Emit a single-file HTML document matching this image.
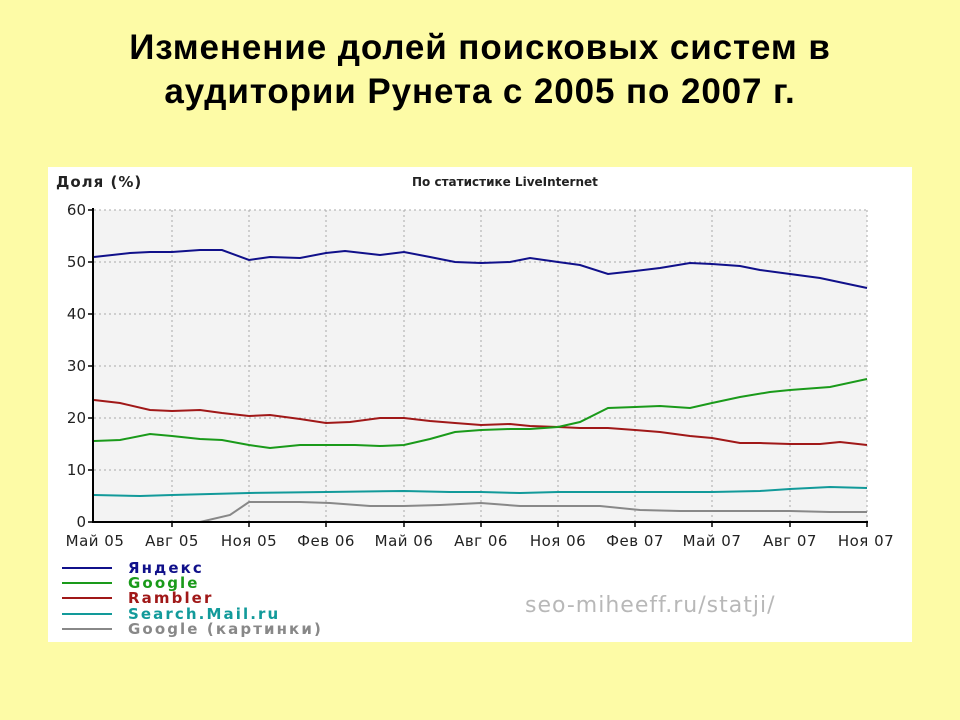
<!DOCTYPE html>
<html><head><meta charset="utf-8"><style>
html,body{margin:0;padding:0;}
body{width:960px;height:720px;overflow:hidden;background:#fdfba6;position:relative;font-family:"Liberation Sans","DejaVu Sans",sans-serif;}
.title{position:absolute;left:0;width:960px;top:26px;text-align:center;font-weight:bold;font-size:35px;line-height:44px;color:#000;letter-spacing:0.9px;}
</style></head><body>
<div class="title">Изменение долей поисковых систем в<br>аудитории Рунета с 2005 по 2007 г.</div>
<svg width="960" height="720" style="position:absolute;left:0;top:0" xmlns="http://www.w3.org/2000/svg" font-family="DejaVu Sans, Liberation Sans, sans-serif">
<rect x="48" y="167" width="864" height="475" fill="#fff"/>
<rect x="94" y="210" width="773" height="312" fill="#f3f3f3"/>
<g stroke="#aaa" stroke-width="1" stroke-dasharray="2,3">
<line x1="94" y1="210" x2="867" y2="210"/><line x1="94" y1="262" x2="867" y2="262"/><line x1="94" y1="314" x2="867" y2="314"/><line x1="94" y1="366" x2="867" y2="366"/><line x1="94" y1="418" x2="867" y2="418"/><line x1="94" y1="470" x2="867" y2="470"/>
<line x1="172" y1="210" x2="172" y2="522"/><line x1="249" y1="210" x2="249" y2="522"/><line x1="326" y1="210" x2="326" y2="522"/><line x1="404" y1="210" x2="404" y2="522"/><line x1="481" y1="210" x2="481" y2="522"/><line x1="558" y1="210" x2="558" y2="522"/><line x1="635" y1="210" x2="635" y2="522"/><line x1="712" y1="210" x2="712" y2="522"/><line x1="790" y1="210" x2="790" y2="522"/><line x1="867" y1="210" x2="867" y2="522"/>
</g>
<g fill="none" stroke-width="2">
<polyline stroke="#888" points="94,522 200,522 230,515 249,502 280,502 300,502 330,503 370,506 404,506 440,505 481,503 520,506 558,506 600,506 640,510 680,511 712,511 790,511 830,512 867,512"/>
<polyline stroke="#129a9a" points="94,495 140,496 172,495 249,493 326,492 404,491 450,492 481,492 520,493 558,492 635,492 712,492 760,491 790,489 830,487 867,488"/>
<polyline stroke="#a01818" points="94,400 120,403 150,410 172,411 200,410 222,413 249,416 270,415 300,419 326,423 350,422 380,418 404,418 430,421 455,423 481,425 510,424 530,426 558,427 580,428 608,428 635,430 660,432 690,436 712,438 740,443 760,443 790,444 820,444 840,442 867,445"/>
<polyline stroke="#1a9a1a" points="94,441 120,440 150,434 172,436 200,439 222,440 249,445 270,448 300,445 326,445 355,445 380,446 404,445 430,439 455,432 481,430 510,429 530,429 558,427 580,422 608,408 635,407 660,406 690,408 712,403 740,397 770,392 790,390 830,387 867,379"/>
<polyline stroke="#10108a" points="94,257 130,253 150,252 172,252 200,250 222,250 249,260 270,257 300,258 326,253 345,251 380,255 404,252 430,257 455,262 481,263 510,262 530,258 558,262 580,265 608,274 635,271 660,268 690,263 712,264 740,266 760,270 790,274 820,278 867,288"/>
</g>
<g stroke="#000" stroke-width="2">
<line x1="93" y1="208" x2="93" y2="523"/><line x1="93" y1="522" x2="868" y2="522"/>
</g>
<g stroke="#000" stroke-width="1.5">
<line x1="88" y1="210" x2="93" y2="210"/><line x1="88" y1="262" x2="93" y2="262"/><line x1="88" y1="314" x2="93" y2="314"/><line x1="88" y1="366" x2="93" y2="366"/><line x1="88" y1="418" x2="93" y2="418"/><line x1="88" y1="470" x2="93" y2="470"/><line x1="88" y1="522" x2="93" y2="522"/>
<line x1="172" y1="522" x2="172" y2="527"/><line x1="249" y1="522" x2="249" y2="527"/><line x1="326" y1="522" x2="326" y2="527"/><line x1="404" y1="522" x2="404" y2="527"/><line x1="481" y1="522" x2="481" y2="527"/><line x1="558" y1="522" x2="558" y2="527"/><line x1="635" y1="522" x2="635" y2="527"/><line x1="712" y1="522" x2="712" y2="527"/><line x1="790" y1="522" x2="790" y2="527"/><line x1="867" y1="522" x2="867" y2="527"/>
</g>
<g font-size="15" fill="#222" text-anchor="end">
<text x="86" y="215">60</text><text x="86" y="267">50</text><text x="86" y="319">40</text><text x="86" y="371">30</text><text x="86" y="423">20</text><text x="86" y="475">10</text><text x="86" y="527">0</text>
</g>
<g font-size="15" fill="#222" text-anchor="middle" letter-spacing="0.5">
<text x="95" y="546">Май 05</text><text x="172" y="546">Авг 05</text><text x="249" y="546">Ноя 05</text><text x="326" y="546">Фев 06</text><text x="404" y="546">Май 06</text><text x="481" y="546">Авг 06</text><text x="558" y="546">Ноя 06</text><text x="635" y="546">Фев 07</text><text x="712" y="546">Май 07</text><text x="790" y="546">Авг 07</text><text x="866" y="546">Ноя 07</text>
</g>
<text x="56" y="187" font-size="15" font-weight="bold" fill="#222" letter-spacing="1">Доля (%)</text>
<text x="412" y="186" font-size="12" font-weight="bold" fill="#222">По статистике LiveInternet</text>
<g stroke-width="2">
<line x1="62" y1="568" x2="112" y2="568" stroke="#10108a"/>
<line x1="62" y1="583" x2="112" y2="583" stroke="#1a9a1a"/>
<line x1="62" y1="598" x2="112" y2="598" stroke="#a01818"/>
<line x1="62" y1="614" x2="112" y2="614" stroke="#129a9a"/>
<line x1="62" y1="629" x2="112" y2="629" stroke="#888"/>
</g>
<g font-size="15" font-weight="bold" letter-spacing="2.1">
<text x="128" y="573" fill="#10108a">Яндекс</text>
<text x="128" y="588" fill="#1a9a1a">Google</text>
<text x="128" y="603" fill="#a01818">Rambler</text>
<text x="128" y="619" fill="#129a9a">Search.Mail.ru</text>
<text x="128" y="634" fill="#888">Google (картинки)</text>
</g>
<text x="525" y="612" font-size="22" fill="#b8b8b8" letter-spacing="1">seo-miheeff.ru/statji/</text>
</svg>
</body></html>
